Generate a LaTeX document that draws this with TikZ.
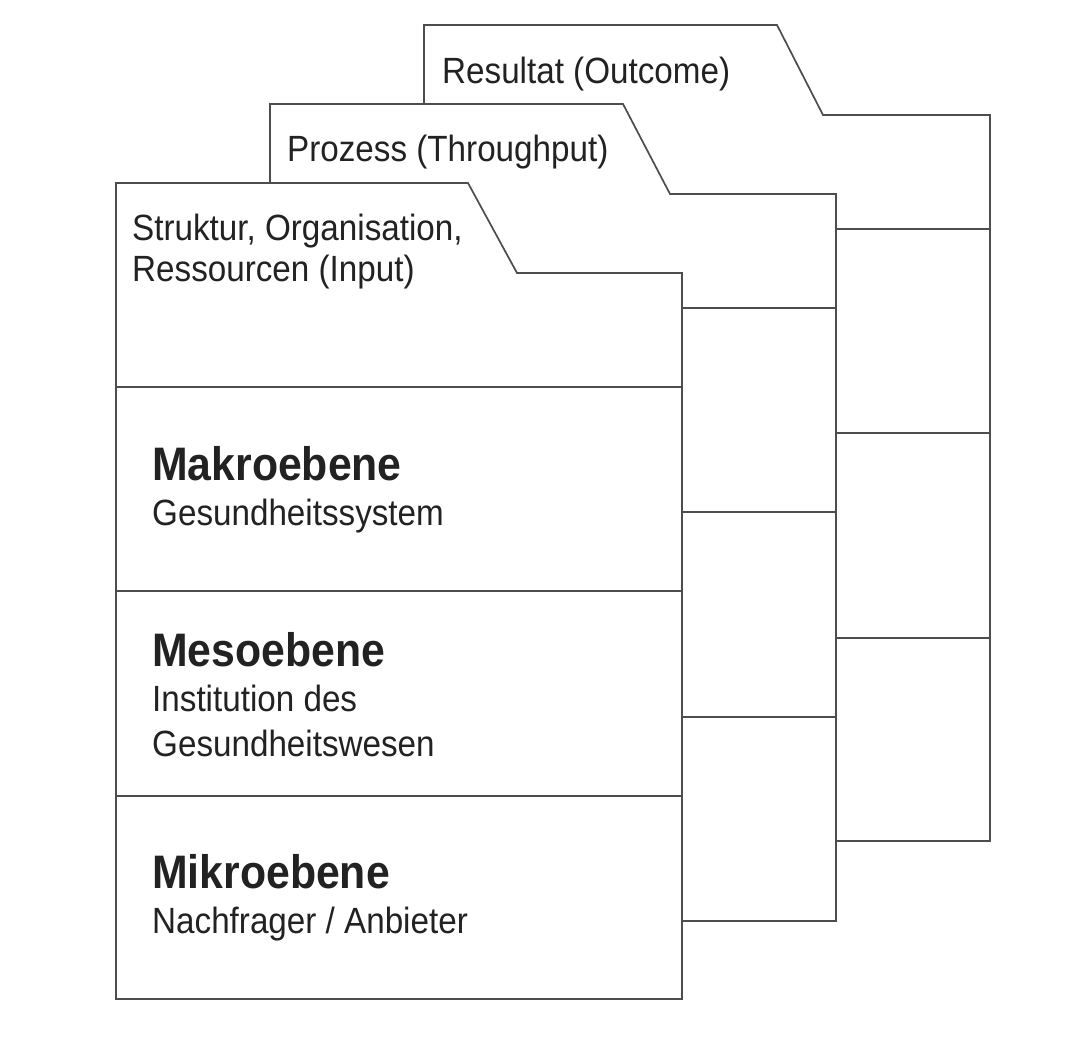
\documentclass[tikz,border=0pt]{standalone}
\usepackage{fontspec}
\setmainfont{Liberation Sans}
\newfontfamily\lblfont[FakeStretch=0.91]{Liberation Sans}
\definecolor{linegray}{HTML}{4D4D4D}
\definecolor{txtgray}{HTML}{222222}
\begin{document}
\begin{tikzpicture}[x=1pt,y=-1pt,
  card/.style={draw=linegray, line width=1.7pt, fill=white, line join=miter},
  divider/.style={draw=linegray, line width=1.7pt},
  reg/.style={anchor=base west, inner sep=0pt, text=txtgray, font=\lblfont\fontsize{36.5}{40}\selectfont},
  bld/.style={anchor=base west, inner sep=0pt, text=txtgray, font=\lblfont\bfseries\fontsize{47}{52}\selectfont}]
\useasboundingbox[fill=white] (0,0) rectangle (1091,1043);

% back card: Resultat
\path[card] (424,25) -- (777,25) -- (823,115) -- (990,115) -- (990,841) -- (424,841) -- cycle;
\foreach \yy in {229,433,638} \draw[divider] (424,\yy) -- (990,\yy);
\node[reg] (res) at (442,84) {Resultat (Outcome)};

% middle card: Prozess
\path[card] (270,104) -- (623,104) -- (670,194) -- (836,194) -- (836,921) -- (270,921) -- cycle;
\foreach \yy in {308,512,717} \draw[divider] (270,\yy) -- (836,\yy);
\node[reg] (proz) at (287,162) {Prozess (Throughput)};

% front card: Struktur
\path[card] (116,183) -- (468,183) -- (517,273) -- (682,273) -- (682,999) -- (116,999) -- cycle;
\foreach \yy in {387,591,796} \draw[divider] (116,\yy) -- (682,\yy);
\node[reg] (str1) at (132,240) {Struktur, Organisation,};
\node[reg] (str2) at (132,281) {Ressourcen (Input)};

\node[bld] (makro) at (152,480) {Makroebene};
\node[reg] (makro2) at (152,525) {Gesundheitssystem};

\node[bld] (meso) at (152,666) {Mesoebene};
\node[reg] (meso2) at (152,711) {Institution des};
\node[reg] (meso3) at (152,756) {Gesundheitswesen};

\node[bld] (mikro) at (152,888) {Mikroebene};
\node[reg] (mikro2) at (152,933) {Nachfrager / Anbieter};
\end{tikzpicture}
\end{document}
